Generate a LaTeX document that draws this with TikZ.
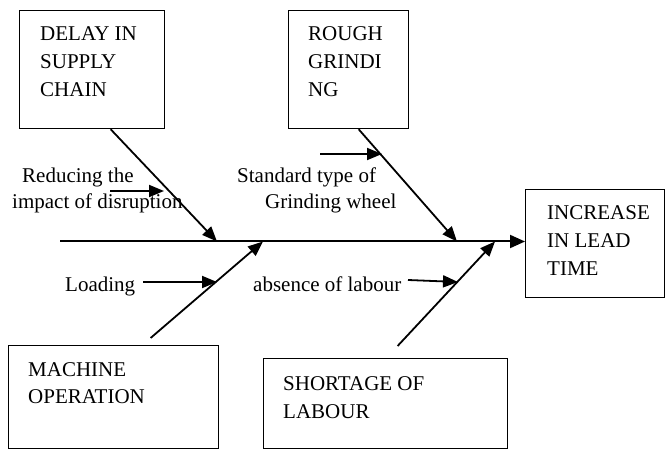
\documentclass[tikz,border=0pt]{standalone}
\usepackage{fontspec}
\setmainfont{Liberation Serif}
\usetikzlibrary{arrows.meta,positioning}
\tikzstyle{box}=[rectangle,draw,line width=1.2pt,inner sep=0pt,anchor=north west]
\tikzstyle{boxtext}=[inner sep=0pt,anchor=base west,align=left,font=\fontsize{21}{28}\selectfont]
\tikzstyle{cause}=[inner sep=0pt,anchor=base west,font=\fontsize{21}{28}\selectfont]
\tikzstyle{bone}=[-{Triangle[length=15pt,width=12pt]},line width=1.8pt]
\tikzstyle{spine}=[-{Triangle[length=15pt,width=13pt]},line width=2pt]

\begin{document}
\begin{tikzpicture}[x=1pt,y=-1pt]
\useasboundingbox (0,0) rectangle (665,449);

\node (delay) [box,minimum width=145pt,minimum height=118pt] at (19,10) {};
\node (rough) [box,minimum width=120pt,minimum height=118pt] at (288,10) {};
\node (lead) [box,minimum width=139pt,minimum height=108pt] at (525,189) {};
\node (machine) [box,minimum width=210pt,minimum height=103pt] at (8,345) {};
\node (shortage) [box,minimum width=244pt,minimum height=90pt] at (263,358) {};

\node (delaytxt) [boxtext] at (40,96.7) {DELAY IN\\SUPPLY\\CHAIN};
\node (roughtxt) [boxtext] at (308,96.7) {ROUGH\\GRINDI\\NG};
\node (leadtxt) [boxtext] at (547,276) {INCREASE\\IN LEAD\\TIME};
\node (machinetxt) [boxtext] at (28,404) {MACHINE\\OPERATION};
\node (shortagetxt) [boxtext] at (283,418.3) {SHORTAGE OF\\LABOUR};

\node (reducing) [cause] at (22,182.7) {Reducing the};
\node (impact) [cause] at (12,208.3) {impact of disruption};
\node (standard) [cause] at (237,182.7) {Standard type of};
\node (wheel) [cause] at (265,208.3) {Grinding wheel};
\node (loading) [cause] at (65,291.7) {Loading};
\node (absence) [cause] at (253,291.7) {absence of labour};

\coordinate (tail) at (60,241.5);
\coordinate (j1) at (217,241.5);
\coordinate (j2) at (457,241.5);
\coordinate (j3) at (263,241.5);
\coordinate (j4) at (495,241.5);

\draw [spine] (tail) -- (tail -| lead.west);
\draw [bone] ([xshift=18.5pt]delay.south) -- (j1);
\draw [bone] ([xshift=10pt]rough.south) -- (j2);
\draw [bone] ([shift={(37,-7)}]machine.north) -- (j3);
\draw [bone] ([shift={(12,-12)}]shortage.north) -- (j4);

\coordinate (impactfrom) at (110,191);
\coordinate (impactto) at (164,191);
\coordinate (wheelfrom) at (320,154);
\coordinate (wheelto) at (382,154);
\coordinate (loadfrom) at (143,282);
\coordinate (loadto) at (217,282);
\coordinate (labourfrom) at (408,280);
\coordinate (labourto) at (458,282);

\draw [bone] (impactfrom) -- (impactto);
\draw [bone] (wheelfrom) -- (wheelto);
\draw [bone] (loadfrom) -- (loadto);
\draw [bone] (labourfrom) -- (labourto);

\end{tikzpicture}
\end{document}
